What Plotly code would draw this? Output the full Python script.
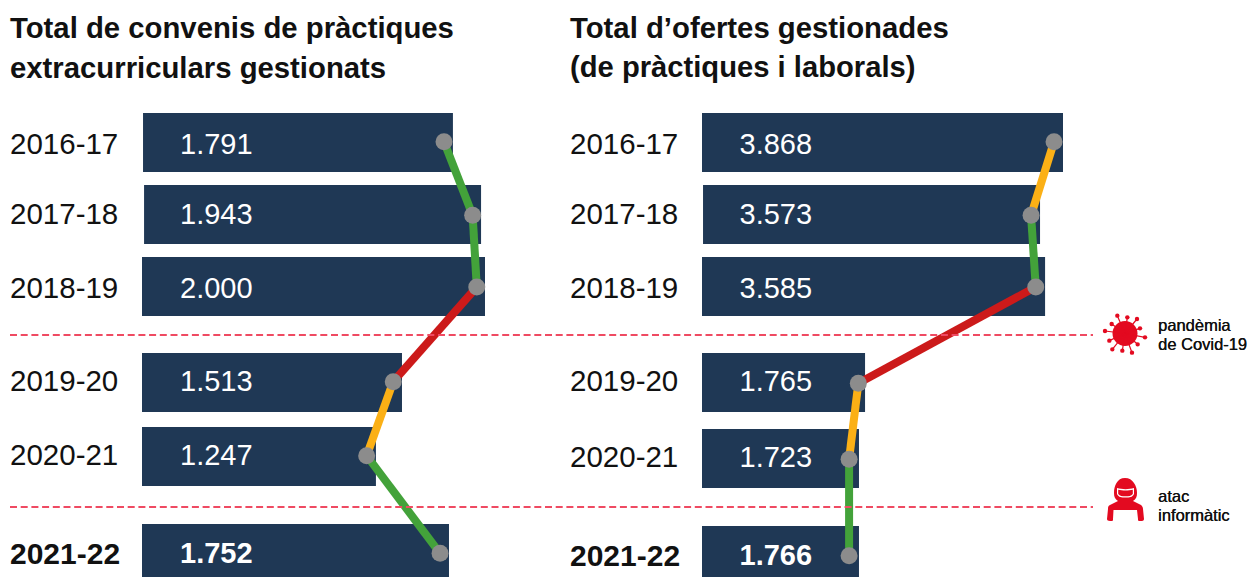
import plotly.graph_objects as go

# ---------- data ----------
years = ["2016-17", "2017-18", "2018-19", "2019-20", "2020-21", "2021-22"]
convenis_labels = ["1.791", "1.943", "2.000", "1.513", "1.247", "1.752"]
ofertes_labels = ["3.868", "3.573", "3.585", "1.765", "1.723", "1.766"]
# bar ends and dots as drawn in the picture, in the units of each panel
convenis_bars = [1813, 1977, 2000, 1516, 1364, 1790]
convenis_dots = [1761, 1928, 1952, 1465, 1310, 1738]
ofertes_bars = [3868, 3622, 3676, 1747, 1682, 1682]
ofertes_dots = [3772, 3526, 3576, 1675, 1576, 1576]
convenis_trend = ["g", "g", "r", "a", "g"]
ofertes_trend = ["a", "g", "r", "a", "g"]

# ---------- layout constants ----------
W, H = 1250, 577
NAVY, GREY, RED, DASH = "#1f3855", "#8c8c8c", "#e30a20", "#ef4a62"
TREND = {"g": "#43a23a", "r": "#cc1a1a", "a": "#fbb016"}
FONT = "Liberation Sans"
L_Y = [142.5, 214.5, 286.5, 382.5, 456.5, 550.5]
R_Y = [142.5, 214.5, 286.5, 382.5, 458.5, 551.5]
L_H = [59, 59, 59, 59, 59, 53]
R_H = [59, 59, 59, 59, 59, 51]
L_BASE = [6, 12, 0, 0, 0, 0]
R_BASE = [0, 11, 0, 0, 0, 0]
L_DOT_Y = [141.7, 215.3, 287, 381.7, 455.7, 553.3]
R_DOT_Y = [141.7, 215.3, 287, 383.3, 459.3, 555.7]
L_TXT_Y = [147, 217, 290.5, 384, 458, 556]
R_TXT_Y = [147, 217, 290.5, 384, 459.5, 558]
L0, L_SCALE = 142, 343 / 2000
R0, R_SCALE = 702, 361 / 3868


def rng(zero, scale):
    return [-zero / scale, (W - zero) / scale]


fig = go.Figure()


def panel(bars, base, dots, trend, labels, bar_y, dot_y, txt_y, heights, xa, label_x, value_x):
    fig.add_trace(go.Bar(x=[e - b for e, b in zip(bars, base)], base=base, y=bar_y, width=heights,
                         orientation="h", marker=dict(color=NAVY, line_width=0), xaxis=xa, yaxis="y",
                         hoverinfo="skip", showlegend=False))
    for i, t in enumerate(trend):
        fig.add_trace(go.Scatter(x=dots[i:i + 2], y=dot_y[i:i + 2], mode="lines",
                                 line=dict(color=TREND[t], width=8), xaxis=xa, yaxis="y",
                                 hoverinfo="skip", showlegend=False))
    fig.add_trace(go.Scatter(x=dots, y=dot_y, mode="markers",
                             marker=dict(color=GREY, size=17, line_width=0), xaxis=xa, yaxis="y",
                             hoverinfo="skip", showlegend=False))
    for i, y in enumerate(years):
        bold = i == len(years) - 1
        fig.add_trace(go.Scatter(x=[label_x], y=[txt_y[i]], mode="text", text=[y],
                                 textposition="middle right",
                                 textfont=dict(family=FONT, size=30 if bold else 29.5, color="#111111",
                                               weight="bold" if bold else "normal"),
                                 xaxis="x3", yaxis="y", hoverinfo="skip", showlegend=False))
        fig.add_trace(go.Scatter(x=[value_x], y=[txt_y[i]], mode="text", text=[labels[i]],
                                 textposition="middle right",
                                 textfont=dict(family=FONT, size=29, color="white",
                                               weight="bold" if bold else "normal"),
                                 xaxis="x3", yaxis="y", hoverinfo="skip", showlegend=False))


panel(convenis_bars, L_BASE, convenis_dots, convenis_trend, convenis_labels,
      L_Y, L_DOT_Y, L_TXT_Y, L_H, "x", 10, 180)
panel(ofertes_bars, R_BASE, ofertes_dots, ofertes_trend, ofertes_labels,
      R_Y, R_DOT_Y, R_TXT_Y, R_H, "x2", 570, 739.5)

shapes = []
for y in (335, 507):
    shapes.append(dict(type="line", xref="x3", yref="y", x0=10, x1=1093, y0=y, y1=y,
                       line=dict(color=DASH, width=2, dash="7px,3.7px")))

# virus icon
cx, cy = 1125, 333.5
shapes.append(dict(type="circle", xref="x3", yref="y", x0=cx - 12.5, x1=cx + 12.5, y0=cy - 12.5, y1=cy + 12.5,
                   fillcolor=RED, line_width=0))
tips = [(82, 47), (112, 52), (141, 57), (65, 72), (150, 85), (45, 93), (165, 112),
        (58, 122), (143, 133), (67, 148), (97, 152), (126, 158)]
for tx, ty in tips:
    px, py = 1090 + tx / 3, 300 + ty / 3
    shapes.append(dict(type="line", xref="x3", yref="y", x0=cx, y0=cy, x1=px, y1=py,
                       line=dict(color=RED, width=1.2)))
    shapes.append(dict(type="circle", xref="x3", yref="y", x0=px - 2.2, x1=px + 2.2, y0=py - 2.2, y1=py + 2.2,
                       fillcolor=RED, line_width=0))

# hooded figure icon
shapes.append(dict(type="path", xref="x3", yref="y",
                   path="M1125,478 C1117,478 1114,486 1114,493 C1114,497 1115,499 1118,501 L1110,505 "
                        "C1108,506 1108,507 1108,509 L1107,519 C1107,520 1108,521 1110,521 L1112,521 "
                        "C1113,521 1113,520 1113,519 L1113.5,510 L1137,510 L1138,519 C1138,520 1138,521 1139,521 "
                        "L1142,521 C1143,521 1144,520 1144,519 L1143,509 "
                        "C1143,507 1142,506 1141,505 L1133,501 C1136,499 1137,497 1137,493 "
                        "C1137,486 1133,478 1125,478 Z",
                   fillcolor=RED, line_width=0))
shapes.append(dict(type="path", xref="x3", yref="y",
                   path="M1117,488 C1122,489.5 1129,489.5 1134,488 L1134,494 C1132,497.5 1130,497.5 1125.5,497.5 "
                        "C1121,497.5 1119,497.5 1117,494 Z",
                   fillcolor="white", line_width=0))
shapes.append(dict(type="path", xref="x3", yref="y",
                   path="M1118.2,489.8 C1122,490.8 1129,490.8 1132.8,489.8 L1132.8,494 C1131,496.2 1129,496.2 1125.5,496.2 "
                        "C1122,496.2 1120,496.2 1118.2,494 Z",
                   fillcolor=RED, line_width=0))

annotations = []
for text, x, y, size, shadow in [
    ("<b>Total de convenis de pràctiques</b>", 10, 27, 29.3, "none"),
    ("<b>extracurriculars gestionats</b>", 10, 67, 29.3, "none"),
    ("<b>Total d’ofertes gestionades</b>", 570, 27, 29.3, "none"),
    ("<b>(de pràctiques i laborals)</b>", 570, 67, 29.2, "none"),
    ("pandèmia", 1158, 325, 16.5, "0.3px 0 0 #111111"),
    ("de Covid-19", 1158, 344, 16.5, "0.3px 0 0 #111111"),
    ("atac", 1158, 496, 16.5, "0.3px 0 0 #111111"),
    ("informàtic", 1158, 515, 16.5, "0.3px 0 0 #111111"),
]:
    annotations.append(dict(text=text, x=x, y=y, xref="x3", yref="y", xanchor="left", yanchor="middle",
                            showarrow=False, borderpad=0, borderwidth=0,
                            font=dict(family=FONT, size=size, color="#111111", shadow=shadow)))

hidden = dict(visible=False, fixedrange=True)
fig.update_layout(
    width=W, height=H, margin=dict(l=0, r=0, t=0, b=0),
    paper_bgcolor="white", plot_bgcolor="rgba(0,0,0,0)", showlegend=False, barmode="overlay",
    xaxis=dict(range=rng(L0, L_SCALE), domain=[0, 1], **hidden),
    xaxis2=dict(range=rng(R0, R_SCALE), domain=[0, 1], overlaying="x", **hidden),
    xaxis3=dict(range=[0, W], domain=[0, 1], overlaying="x", **hidden),
    yaxis=dict(range=[H, 0], domain=[0, 1], **hidden),
    shapes=shapes, annotations=annotations,
)
fig.write_html("out.html", config={"displayModeBar": False, "responsive": False},
               post_script="document.body.style.margin='0';document.body.style.overflow='hidden';")
